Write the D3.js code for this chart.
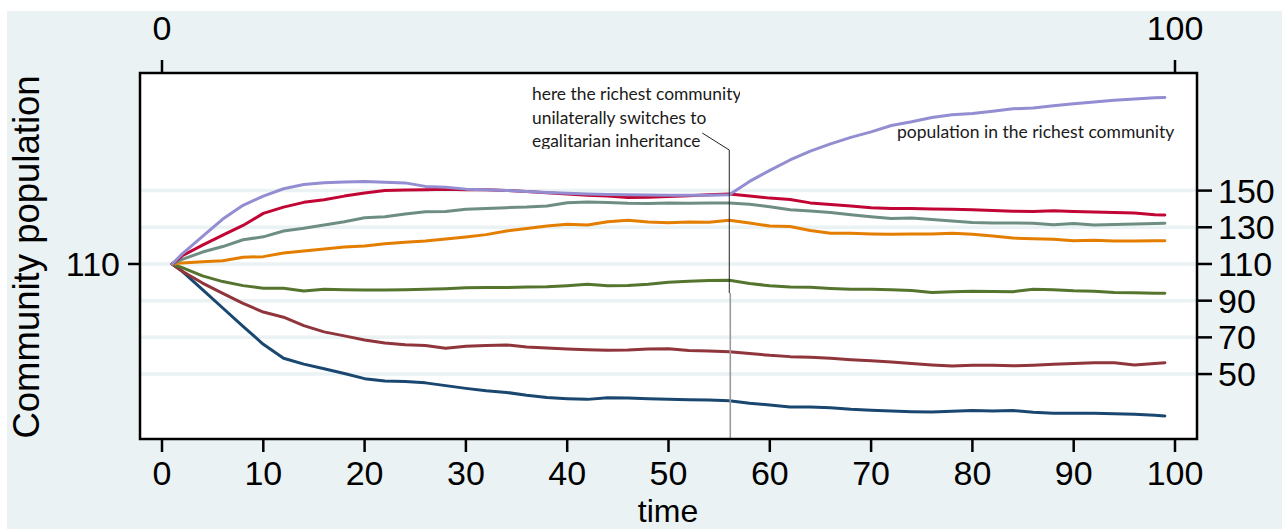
<!DOCTYPE html>
<html>
<head>
<meta charset="utf-8">
<script src="https://cdn.jsdelivr.net/npm/d3@7"></script>
<style>
  body { margin: 0; background: #ffffff; }
  svg { display: block; }
</style>
</head>
<body>
<svg id="chart" width="1282" height="529"></svg>
<script>
// Simulation periods
const time = [1,2,4,6,8,10,12,14,16,18,20,22,24,26,28,30,32,34,36,38,40,42,44,46,48,50,
              52,54,56,58,60,62,64,66,68,70,72,74,76,78,80,82,84,86,88,90,92,94,96,98,99];

// Population of each community, ordered from richest to poorest
const richest = [110,115.5,125,134.5,142,147,151,153.3,154.3,154.7,155,154.5,154.2,152.3,151.8,150.8,150.4,150.1,149.5,149.0,148.5,148.1,147.9,147.7,147.6,147.5,
                 147.5,147.4,147.8,155,161,166.7,171.5,175.5,179,182,185.5,187.5,189.8,191.4,192,193.3,194.6,195,196.3,197.4,198.3,199.2,199.9,200.6,200.8];
const second  = [110,114.5,120.3,125.7,131,137.6,141,143.6,145,147,148.7,150,150.3,150.5,150.7,150.5,150.4,150.1,149.5,148.8,148.2,147.5,147,146.3,146.4,146.8,
                 147.2,147.8,148.1,147,145.9,145.2,143.3,142.4,141.6,140.7,140.3,140.3,140,139.8,139.5,139.1,138.7,138.6,139,138.6,138.3,138,137.8,136.9,136.7];
const third   = [110,112.5,116.5,119.5,123.2,124.8,128,129.5,131.3,133,135.2,135.8,137.3,138.5,138.6,139.8,140.2,140.7,141,141.6,143.4,143.8,143.5,143.1,143,143.2,
                 143.1,143.2,143.2,142.5,141.2,139.6,138.9,138,136.8,135.8,134.8,135.1,134.3,133.4,132.6,132.4,132.3,132.2,131.4,132.1,131.3,131.5,131.8,132.1,132.2];
const fourth  = [110,110.6,111.2,111.8,113.7,114,116,117.1,118.2,119.2,119.8,121,121.9,122.5,123.6,124.7,126,128,129.4,130.7,131.6,131.2,133,133.9,132.9,132.5,
                 132.9,132.7,133.8,132.3,130.7,130.4,128.3,126.7,126.7,126.4,126.2,126.3,126.4,126.8,126.2,125.2,124.1,123.8,123.5,122.6,123,122.5,122.5,122.6,122.7];
const fifth   = [110,108,103.5,100.4,98.2,96.8,96.8,95.3,96.2,95.9,95.8,95.8,96,96.2,96.5,97,97.2,97.2,97.4,97.6,98.2,98.9,98.2,98.3,99,100.1,
                 100.6,101,101.1,99.4,98.1,97.4,97.3,96.7,96.2,96.2,95.9,95.6,94.5,94.8,95.2,95,94.9,96.2,95.9,95.4,95.2,94.5,94.3,94.1,94];
const sixth   = [110,106,99.6,94,88.5,83.8,81,76.4,73,70.8,68.6,66.9,66,65.6,64.1,65.2,65.5,65.9,64.8,64.2,63.6,63.2,63,63.1,63.7,63.8,
                 62.9,62.5,62.2,61.2,60.2,59.5,59.2,58.6,57.8,57.2,56.6,55.8,55,54.4,54.8,54.8,54.5,54.8,55.3,55.7,56.1,56.1,54.9,55.8,56.2];
const poorest = [110,106,96,86,76,66.2,58.6,55.4,52.9,50.3,47.5,46.2,45.9,45.2,43.7,42.2,40.9,40,38.4,37.2,36.6,36.2,37.1,36.9,36.6,36.3,
                 36,35.8,35.5,34.1,33.1,32.1,32,31.6,30.8,30.3,29.8,29.5,29.3,29.7,30.1,29.8,30.1,29.2,28.6,28.6,28.6,28.4,28.1,27.6,27.2];

// Axis ticks
const bottomTicks = [0,10,20,30,40,50,60,70,80,90,100];
const topTicks = [0,100];
const leftTicks = [110];
const rightTicks = [50,70,90,110,130,150];
const gridValues = [50,70,90,110,130,150];

// Policy switch and annotation texts
const switchTime = 56;
const noteLines = ["here the richest community", "unilaterally switches to", "egalitarian inheritance"];
const richestLabel = "population in the richest community";

// Drawing order: poorest first, richest on top
const series = [
  { name: "poorest", values: poorest, color: "#1a476f" },
  { name: "sixth",   values: sixth,   color: "#90353b" },
  { name: "fifth",   values: fifth,   color: "#55752f" },
  { name: "fourth",  values: fourth,  color: "#e37e00" },
  { name: "third",   values: third,   color: "#6e8e84" },
  { name: "second",  values: second,  color: "#c10534" },
  { name: "richest", values: richest, color: "#938dd2" }
];

const svg = d3.select("#chart");
const axisFont = "'Liberation Sans', Arial, sans-serif";
const noteFont = "Lato, 'Open Sans', sans-serif";
const bg = "#eaf2f3";

const plot = { left: 140, top: 73, right: 1197, bottom: 439 };

const x = d3.scaleLinear().domain([0, 100]).range([162, 1175]);
const y = d3.scaleLinear().domain([14.6, 214.1]).range([plot.bottom, plot.top]);

// Graph background
svg.append("rect").attr("x", 7).attr("y", 11).attr("width", 1275).attr("height", 518).attr("fill", bg);

// Plot region
svg.append("rect")
  .attr("x", plot.left).attr("y", plot.top)
  .attr("width", plot.right - plot.left).attr("height", plot.bottom - plot.top)
  .attr("fill", "#ffffff");

// Grid lines
svg.append("g").selectAll("line").data(gridValues).join("line")
  .attr("x1", plot.left).attr("x2", plot.right)
  .attr("y1", d => y(d)).attr("y2", d => y(d))
  .attr("stroke", bg).attr("stroke-width", 3.5);

// Series lines
const line = d3.line().x((d, i) => x(time[i])).y(d => y(d));
svg.append("g").selectAll("path").data(series).join("path")
  .attr("d", d => line(d.values))
  .attr("fill", "none")
  .attr("stroke", d => d.color)
  .attr("stroke-width", 3)
  .attr("stroke-linejoin", "round")
  .attr("stroke-linecap", "round");

// Switch marker line below the pointer
svg.append("line")
  .attr("x1", x(switchTime) + 1).attr("x2", x(switchTime) + 1)
  .attr("y1", 293).attr("y2", plot.bottom)
  .attr("stroke", "#9a9a9a").attr("stroke-width", 1.6);

// Pointer from the note to the switch
svg.append("path")
  .attr("d", `M${x(switchTime) - 27},133 L${x(switchTime)},150 L${x(switchTime)},293`)
  .attr("fill", "none").attr("stroke", "#222").attr("stroke-width", 1);

// Note text (clipped at the bottom of its box)
svg.append("clipPath").attr("id", "noteClip")
  .append("rect").attr("x", 500).attr("y", 80).attr("width", 240).attr("height", 69);
svg.append("g").attr("clip-path", "url(#noteClip)")
  .selectAll("text").data(noteLines).join("text")
  .attr("x", 532).attr("y", (d, i) => 100 + i * 23.5)
  .attr("font-family", noteFont).attr("font-size", 17.4)
  .attr("fill", "#1a1a1a")
  .text(d => d);

svg.append("text")
  .attr("x", 897).attr("y", 138)
  .attr("font-family", noteFont).attr("font-size", 17.5)
  .attr("fill", "#1a1a1a")
  .text(richestLabel);

// Plot frame
svg.append("rect")
  .attr("x", plot.left).attr("y", plot.top)
  .attr("width", plot.right - plot.left).attr("height", plot.bottom - plot.top)
  .attr("fill", "none").attr("stroke", "#000").attr("stroke-width", 2.5);

const tickW = 2.5;
const fs = 34;

// Bottom axis
const gb = svg.append("g");
gb.selectAll("line").data(bottomTicks).join("line")
  .attr("x1", d => x(d)).attr("x2", d => x(d))
  .attr("y1", plot.bottom).attr("y2", plot.bottom + 13)
  .attr("stroke", "#000").attr("stroke-width", tickW);
gb.selectAll("text").data(bottomTicks).join("text")
  .attr("x", d => x(d)).attr("y", 485)
  .attr("text-anchor", "middle")
  .attr("font-family", axisFont).attr("font-size", fs)
  .text(d => d);

// Top axis
const gt = svg.append("g");
gt.selectAll("line").data(topTicks).join("line")
  .attr("x1", d => x(d)).attr("x2", d => x(d))
  .attr("y1", plot.top).attr("y2", plot.top - 13)
  .attr("stroke", "#000").attr("stroke-width", tickW);
gt.selectAll("text").data(topTicks).join("text")
  .attr("x", d => x(d)).attr("y", 40)
  .attr("text-anchor", "middle")
  .attr("font-family", axisFont).attr("font-size", fs)
  .text(d => d);

// Left axis
const gl = svg.append("g");
gl.selectAll("line").data(leftTicks).join("line")
  .attr("x1", plot.left).attr("x2", plot.left - 12)
  .attr("y1", d => y(d)).attr("y2", d => y(d))
  .attr("stroke", "#000").attr("stroke-width", tickW);
gl.selectAll("text").data(leftTicks).join("text")
  .attr("x", 120).attr("y", d => y(d) + 12)
  .attr("text-anchor", "end")
  .attr("font-family", axisFont).attr("font-size", fs)
  .text(d => d);

// Right axis
const gr = svg.append("g");
gr.selectAll("line").data(rightTicks).join("line")
  .attr("x1", plot.right).attr("x2", plot.right + 15)
  .attr("y1", d => y(d)).attr("y2", d => y(d))
  .attr("stroke", "#000").attr("stroke-width", tickW);
gr.selectAll("text").data(rightTicks).join("text")
  .attr("x", plot.right + 21).attr("y", d => y(d) + 12)
  .attr("font-family", axisFont).attr("font-size", fs)
  .text(d => d);

// Axis titles
svg.append("text")
  .attr("x", 668).attr("y", 522)
  .attr("text-anchor", "middle")
  .attr("font-family", axisFont).attr("font-size", 32)
  .text("time");

svg.append("text")
  .attr("transform", "translate(39,257) rotate(-90)")
  .attr("text-anchor", "middle")
  .attr("font-family", axisFont).attr("font-size", 36.5)
  .text("Community population");
</script>
</body>
</html>
